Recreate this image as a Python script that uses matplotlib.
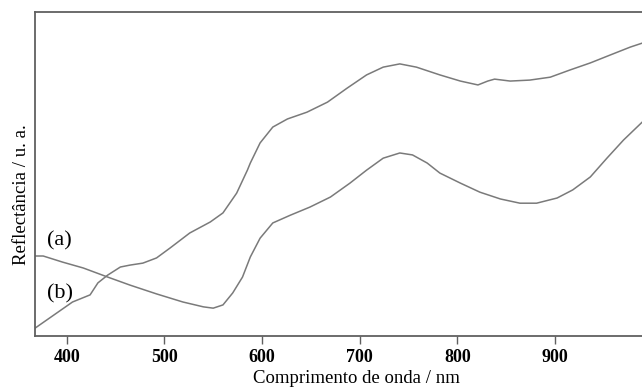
import matplotlib
matplotlib.use("Agg")
import matplotlib.pyplot as plt

# wavelength (nm) and reflectance (arbitrary units)
wl_a = [368, 376, 396, 417, 442, 465, 492, 519, 540, 550, 560, 570, 580, 588,
        598, 611, 629, 649, 670, 690, 707, 724, 741, 754, 769, 782, 803, 823,
        844, 864, 881, 902, 918, 936, 953, 970, 989]
refl_a = [24.7, 24.7, 22.8, 21.0, 18.2, 15.7, 13.0, 10.5, 9.0, 8.6, 9.6, 13.3,
          18.2, 24.4, 30.2, 34.9, 37.3, 39.8, 42.9, 47.2, 51.2, 54.9, 56.5,
          55.9, 53.4, 50.3, 47.2, 44.4, 42.3, 41.0, 41.0, 42.6, 45.1, 49.1,
          54.9, 60.5, 66.0]

wl_b = [368, 406, 424, 432, 442, 455, 465, 478, 492, 506, 526, 547, 560, 574,
        585, 588, 598, 611, 626, 646, 667, 687, 707, 724, 741, 758, 782, 803,
        821, 831, 838, 854, 874, 895, 915, 936, 956, 977, 989]
refl_b = [2.5, 10.5, 12.7, 16.4, 18.8, 21.3, 21.9, 22.5, 24.1, 27.2, 31.8,
          35.2, 38.0, 44.1, 51.2, 53.4, 59.6, 64.5, 67.0, 69.1, 72.2, 76.5,
          80.6, 83.0, 84.0, 83.0, 80.6, 78.7, 77.5, 78.7, 79.3, 78.7, 79.0,
          79.9, 82.1, 84.3, 86.7, 89.2, 90.4]

xticks = [400, 500, 600, 700, 800, 900]
labels = ["(a)", "(b)"]

plt.rcParams['font.family'] = ['Liberation Serif', 'DejaVu Serif']

fig = plt.figure(figsize=(6.42, 3.89), dpi=100)
ax = fig.add_axes([0.0545, 0.1362, 0.9455, 0.8328])

line_color = '#7a7a7a'
ax.plot(wl_a, refl_a, color=line_color, lw=1.1)
ax.plot(wl_b, refl_b, color=line_color, lw=1.1)

ax.set_xlim(367.6, 988.9)
ax.set_ylim(0, 100)

ax.set_xticks(xticks)
ax.set_xticklabels([str(t) for t in xticks], fontweight='bold', fontsize=13)
ax.set_yticks([])
ax.tick_params(axis='x', direction='out', length=6, width=1, color='#606060', pad=3)

for s in ['left', 'bottom', 'top']:
    ax.spines[s].set_color('#606060')
    ax.spines[s].set_linewidth(1.3)
ax.spines['right'].set_visible(False)

ax.set_xlabel("Comprimento de onda / nm", fontsize=13.5, labelpad=5)
ax.xaxis.set_label_coords(0.529, -0.105)
ax.set_ylabel("Reflectância / u. a.", fontsize=13.5)
ax.yaxis.set_label_coords(-0.008, 0.435)

ax.text(380, 29.5, labels[0], fontsize=16, ha='left', va='center')
ax.text(380, 13.0, labels[1], fontsize=16, ha='left', va='center')

fig.savefig("out.png", dpi=100)
